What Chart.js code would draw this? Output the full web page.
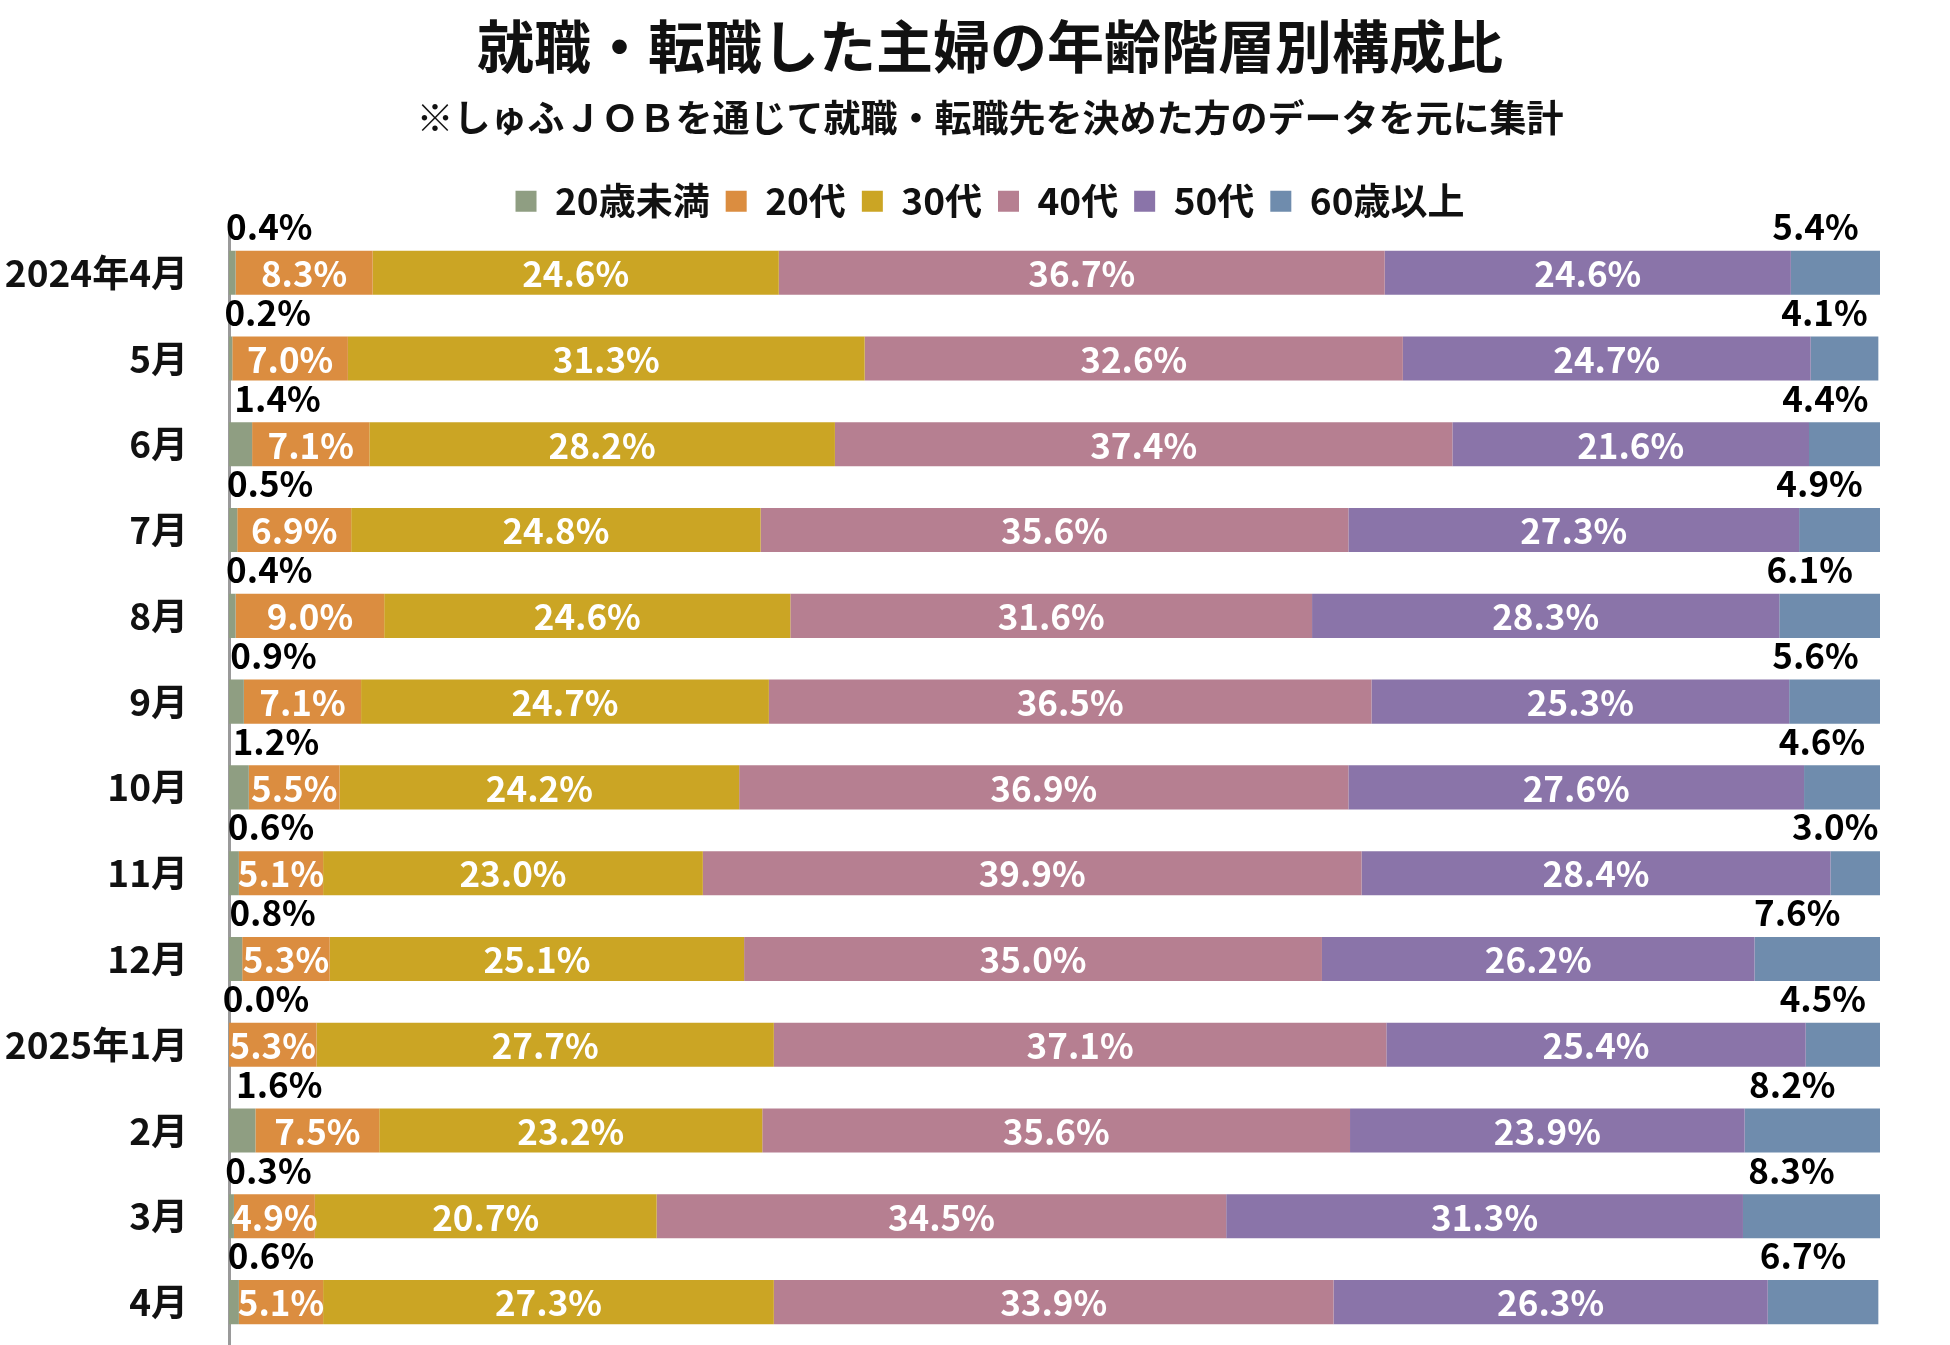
<!DOCTYPE html>
<html lang="ja">
<head>
<meta charset="utf-8">
<title>就職・転職した主婦の年齢階層別構成比</title>
<script src="https://cdn.jsdelivr.net/npm/chart.js@4.4.1/dist/chart.umd.min.js"></script>
<style>
  html, body { margin: 0; padding: 0; background: #fff; }
  #wrap { width: 1950px; height: 1345px; position: relative; }
</style>
</head>
<body>
<div id="wrap"><canvas id="chart"></canvas></div>
<script>
// 月ラベル(上から順)
const months = ['2024年4月', '5月', '6月', '7月', '8月', '9月', '10月', '11月', '12月', '2025年1月', '2月', '3月', '4月'];
const ageGroups = ['20歳未満', '20代', '30代', '40代', '50代', '60歳以上'];
const ageColors = ['#8f9e82', '#db8d40', '#cba524', '#b67f91', '#8a74a9', '#6f8cad'];

// 各年齢階層の構成比(%)
const under20 = [0.4, 0.2, 1.4, 0.5, 0.4, 0.9, 1.2, 0.6, 0.8, 0.0, 1.6, 0.3, 0.6];
const age20s  = [8.3, 7.0, 7.1, 6.9, 9.0, 7.1, 5.5, 5.1, 5.3, 5.3, 7.5, 4.9, 5.1];
const age30s  = [24.6, 31.3, 28.2, 24.8, 24.6, 24.7, 24.2, 23.0, 25.1, 27.7, 23.2, 20.7, 27.3];
const age40s  = [36.7, 32.6, 37.4, 35.6, 31.6, 36.5, 36.9, 39.9, 35.0, 37.1, 35.6, 34.5, 33.9];
const age50s  = [24.6, 24.7, 21.6, 27.3, 28.3, 25.3, 27.6, 28.4, 26.2, 25.4, 23.9, 31.3, 26.3];
const over60  = [5.4, 4.1, 4.4, 4.9, 6.1, 5.6, 4.6, 3.0, 7.6, 4.5, 8.2, 8.3, 6.7];

const seriesValues = [under20, age20s, age30s, age40s, age50s, over60];
const FONT = "'Noto Sans CJK JP', 'Noto Sans', sans-serif";

// 値ラベル: 両端の階層はバーの上に黒、それ以外はバー内に白
const valueLabels = {
  id: 'valueLabels',
  afterDatasetsDraw(chart) {
    const { ctx } = chart;
    ctx.save();
    ctx.font = `bold 35px ${FONT}`;
    ctx.textAlign = 'center';
    ctx.textBaseline = 'middle';
    chart.data.datasets.forEach((ds, i) => {
      const meta = chart.getDatasetMeta(i);
      meta.data.forEach((bar, j) => {
        const text = `${ds.data[j].toFixed(1)}%`;
        const mid = (bar.base + bar.x) / 2;
        if (i === 0) {
          ctx.fillStyle = '#000';
          ctx.fillText(text, mid + 37, bar.y - 46);
        } else if (i === seriesValues.length - 1) {
          ctx.fillStyle = '#000';
          ctx.fillText(text, mid - 20, bar.y - 46);
        } else {
          ctx.fillStyle = '#fff';
          ctx.fillText(text, mid, bar.y + 1);
        }
      });
    });
    ctx.restore();
  },
};

// タイトル・凡例はグラフ全体より少し右寄りに置かれている
const shiftHeader = {
  id: 'shiftHeader',
  afterLayout(chart) {
    chart.boxes.forEach((box) => {
      if (box instanceof Chart.Scale) return;
      box.left += 50;
      box.right += 50;
    });
  },
};

new Chart(document.getElementById('chart'), {
  type: 'bar',
  data: {
    labels: months,
    datasets: ageGroups.map((name, i) => ({
      label: name,
      data: seriesValues[i],
      backgroundColor: ageColors[i],
      borderWidth: 0,
      categoryPercentage: 1,
      barPercentage: 0.514,
    })),
  },
  options: {
    indexAxis: 'y',
    responsive: true,
    maintainAspectRatio: false,
    animation: false,
    devicePixelRatio: 1,
    layout: { padding: { left: 0, right: 70, top: 0, bottom: 0 } },
    plugins: {
      title: {
        display: true,
        text: '就職・転職した主婦の年齢階層別構成比',
        color: '#111',
        font: { family: FONT, size: 57, weight: 'bold', lineHeight: 1.2 },
        padding: { top: 12, bottom: 8 },
      },
      subtitle: {
        display: true,
        text: '※しゅふＪＯＢを通じて就職・転職先を決めた方のデータを元に集計',
        color: '#111',
        font: { family: FONT, size: 37, weight: 'bold', lineHeight: 1.2 },
        padding: { top: 7, bottom: 27 },
      },
      legend: {
        display: true,
        position: 'top',
        labels: {
          color: '#111',
          boxWidth: 21,
          boxHeight: 21,
          padding: 16,
          font: { family: FONT, size: 37, weight: 'bold' },
        },
      },
      tooltip: { enabled: false },
    },
    scales: {
      x: { stacked: true, min: 0, max: 100, display: false },
      y: {
        stacked: true,
        grid: { display: false },
        border: { display: true, color: '#9a9a9a', width: 3 },
        ticks: { color: '#111', padding: 33, font: { family: FONT, size: 37, weight: 'bold' } },
        afterFit(scale) {
          scale.width = 229;
          // 目盛りラベル分の上下余白は不要
          scale.paddingTop = 0;
          scale.paddingBottom = 0;
        },
      },
    },
  },
  plugins: [valueLabels, shiftHeader],
});
</script>
</body>
</html>
